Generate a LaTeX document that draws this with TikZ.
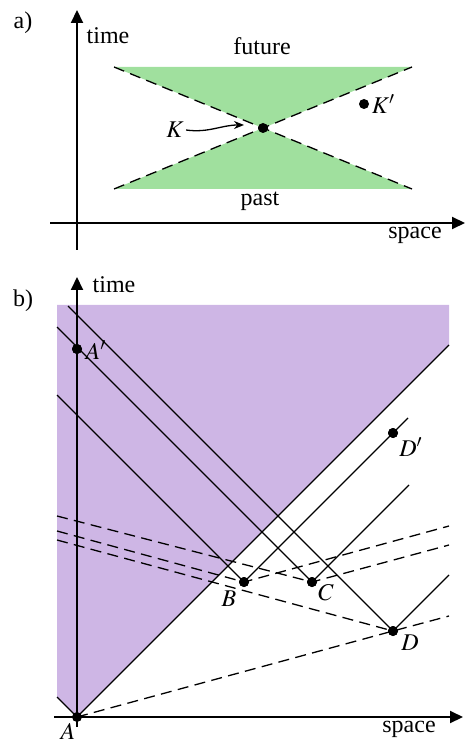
\documentclass[tikz,border=0pt]{standalone}
\usepackage{mathptmx}
\usepackage{fontspec}
\setmainfont{Liberation Serif}
\usetikzlibrary{arrows.meta,positioning}
\definecolor{conegreen}{RGB}{160,224,158}
\definecolor{conepurple}{RGB}{206,182,229}
\tikzset{
  axisarr/.style={-{Triangle[length=6.5pt,width=6pt]},line width=1pt},
  ray/.style={line width=0.65pt},
  simline/.style={line width=0.65pt,dash pattern=on 5.5pt off 3.2pt},
  evdot/.style={circle,fill=black,inner sep=0pt,minimum size=5pt},
  lbl/.style={inner sep=1pt,font=\fontsize{12}{14}\selectfont},
  pointer/.style={-{Stealth[length=5pt,width=4pt]},line width=0.65pt}
}
\begin{document}
\begin{tikzpicture}[x=0.5pt,y=-0.5pt]
  \useasboundingbox (0,0) rectangle (469,742);
  % a) light cone of K
  \coordinate (ul) at (114,67);
  \coordinate (ur) at (412,67);
  \coordinate (ll) at (114,189);
  \coordinate (lr) at (412,189);
  \node[evdot] (K) at (263,128) {};
  \node[evdot] (Kp) at (364,104) {};
  \fill[conegreen] (ul) -- (ur) -- (K.center) -- cycle;
  \fill[conegreen] (ll) -- (lr) -- (K.center) -- cycle;
  \draw[simline] (ul) -- (lr);
  \draw[simline] (ll) -- (ur);
  \node[evdot] at (K) {};
  \coordinate (ta0) at (77,250);
  \coordinate (ta1) at (77,10);
  \coordinate (sa0) at (50,223);
  \coordinate (sa1) at (465,223);
  \draw[axisarr] (ta0) -- (ta1);
  \draw[axisarr] (sa0) -- (sa1);
  \node[lbl] (alab) at (23,23) {a)};
  \node[lbl] (atime) at (108,36) {time};
  \node[lbl] (aspace) at (415,235) {space};
  \node[lbl] (future) at (262,46) {future};
  \node[lbl] (past) at (260,201) {past};
  \node[lbl,right=0pt of Kp] (Kplbl) {$K'$};
  \node[lbl] (Klbl) at (175,130) {$K$};
  \coordinate (Ktip) at (244,125);
  \draw[pointer] (Klbl.east) to[out=-8,in=180] (Ktip);
  % b) light cone of A
  \coordinate (tl) at (57,305);
  \coordinate (tr) at (449,305);
  \coordinate (cr) at (449,345);
  \coordinate (cl) at (57,697);
  \coordinate (A) at (77,717);
  \fill[conepurple] (tl) -- (tr) -- (cr) -- (A) -- (cl) -- cycle;
  \node[evdot] (B) at (244,582) {};
  \node[evdot] (C) at (312,582) {};
  \node[evdot] (D) at (393,631) {};
  \node[evdot] (Dp) at (393,433) {};
  \node[evdot] (Ap) at (77,349) {};
  \coordinate (rD0) at (68,306);
  \coordinate (rD1) at (449,575);
  \coordinate (rC0) at (57,327);
  \coordinate (rC1) at (409,485);
  \coordinate (rB0) at (57,395);
  \coordinate (rB1) at (408,418);
  \draw[ray] (cr) -- (A.center) -- (cl);
  \draw[ray] (rD0) -- (D.center) -- (rD1);
  \draw[ray] (rC0) -- (C.center) -- (rC1);
  \draw[ray] (rB0) -- (B.center) -- (rB1);
  \coordinate (sD0) at (57,540);
  \coordinate (sD1) at (449,616);
  \coordinate (sB0) at (57,531);
  \coordinate (sB1) at (449,526);
  \coordinate (sC0) at (57,516);
  \coordinate (sC1) at (449,545);
  \draw[simline] (A.center) -- (D.center) -- (sD1);
  \draw[simline] (sD0) -- (D.center);
  \draw[simline] (sB0) -- (B.center) -- (sB1);
  \draw[simline] (sC0) -- (C.center) -- (sC1);
  \coordinate (tb0) at (77,727);
  \coordinate (tb1) at (77,277);
  \coordinate (sb0) at (54,717);
  \coordinate (sb1) at (463,717);
  \draw[axisarr] (tb0) -- (tb1);
  \draw[axisarr] (sb0) -- (sb1);
  \node[evdot] (Adot) at (A) {};
  \node[evdot] at (B) {};
  \node[evdot] at (C) {};
  \node[evdot] at (D) {};
  \node[evdot] at (Dp) {};
  \node[evdot] at (Ap) {};
  \node[lbl] (blab) at (23,301) {b)};
  \node[lbl] (btime) at (114,285) {time};
  \node[lbl] (bspace) at (409,729) {space};
  \node[lbl] (Alab) at (68,731) {$A$};
  \node[lbl] (Aplab) at (96,350) {$A'$};
  \node[lbl] (Blab) at (229,599) {$B$};
  \node[lbl] (Clab) at (326,593) {$C$};
  \node[lbl] (Dlab) at (410,643) {$D$};
  \node[lbl] (Dplab) at (411,447) {$D'$};
\end{tikzpicture}
\end{document}
